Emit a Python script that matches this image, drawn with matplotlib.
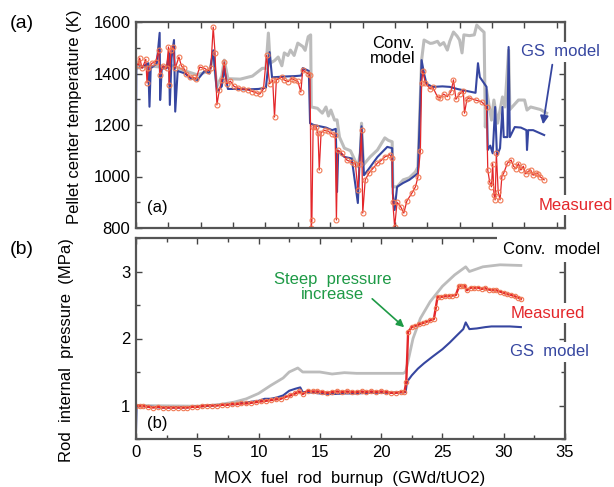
import numpy as np
import matplotlib
matplotlib.use("Agg")
import matplotlib.pyplot as plt

plt.rcParams['font.family'] = ['Liberation Sans', 'DejaVu Sans']

# ---- (a) pellet center temperature ----
a_meas_x = [0.05, 0.2, 0.3, 0.5, 0.8, 0.9, 1.0, 1.3, 1.6, 1.85, 1.95, 2.2, 2.5, 2.65, 2.7, 2.85,
            3.05, 3.2, 3.5, 3.7, 3.9, 4.1, 4.4, 4.7, 4.9, 5.2, 5.6, 5.9, 6.1, 6.3, 6.45, 6.6,
            6.8, 7.0, 7.2, 7.4, 7.7, 8.0, 8.3, 8.7, 9.1, 9.5, 9.8, 10.1, 10.4, 10.65, 10.9,
            11.15, 11.3, 11.45, 11.9, 12.1, 12.4, 12.7, 12.9, 13.2, 13.45, 13.6, 14.0, 14.2,
            14.3, 14.35, 14.45, 14.7, 14.85, 14.95, 15.1, 15.4, 15.7, 16.0, 16.25, 16.35,
            16.45, 16.8, 17.2, 17.6, 17.9, 18.1, 18.25, 18.4, 18.5, 18.7, 19.0, 19.3, 19.7,
            20.0, 20.3, 20.7, 20.9, 20.95, 21.1, 21.3, 21.6, 21.85, 22.1, 22.5, 22.8, 23.0,
            23.2, 23.3, 23.4, 23.6, 24.0, 24.2, 24.6, 24.8, 25.1, 25.4, 25.7, 25.9, 26.1,
            26.4, 26.7, 26.8, 27.0, 27.2, 27.7, 28.2, 28.6, 28.7, 28.85, 29.0, 29.1, 29.2,
            29.3, 29.4, 29.55, 29.7, 29.85, 30.0, 30.3, 30.6, 30.8, 31.0, 31.2, 31.4, 31.6,
            31.8, 32.0, 32.2, 32.4, 32.6, 32.8, 33.0, 33.3]
a_meas_T = [1440, 1433, 1460, 1420, 1455, 1363, 1420, 1440, 1445, 1491, 1394, 1430, 1420, 1503, 1355, 1491,
            1503, 1420, 1464, 1430, 1420, 1400, 1386, 1385, 1380, 1425, 1420, 1410, 1420, 1580, 1480, 1278,
            1336, 1375, 1445, 1360, 1370, 1350, 1344, 1340, 1337, 1330, 1325, 1320, 1340, 1470, 1360,
            1375, 1231, 1375, 1386, 1375, 1368, 1380, 1375, 1370, 1328, 1414, 1400, 1395,
            800, 830, 1193, 1193, 1167, 1025, 1170, 1180, 1175, 1165, 1160, 831,
            1103, 1090, 1064, 1055, 1050, 948, 1050, 1181, 858, 987, 1013, 1030, 1052,
            1062, 1076, 1085, 1070, 901, 804, 900, 882, 858, 905, 935, 960, 998,
            1100, 1363, 1410, 1363, 1340, 1348, 1309, 1305, 1320, 1310, 1330, 1375, 1300,
            1320, 1333, 1246, 1300, 1305, 1297, 1290, 1270, 1025, 980, 960, 1050, 930,
            909, 1090, 940, 909, 1000, 1013, 1052, 1064, 1040, 1030, 1050, 1025, 1040,
            1010, 1020, 1025, 1005, 1013, 1010, 998, 987]

a_gs_x = [0.0, 0.03, 0.5, 1.0, 1.1, 1.2, 1.7, 1.93, 1.97, 2.1, 2.5, 2.7, 2.76, 2.9, 3.1, 3.2, 3.4,
          4.0, 4.5, 5.0, 5.6, 6.0, 6.3, 6.6, 7.0, 7.2, 7.5, 8.0, 9.0, 10.0, 10.6, 10.9, 11.1,
          12.0, 13.0, 13.5, 13.6, 14.1, 14.2, 14.5, 15.0, 15.5, 16.0, 16.3, 16.4, 16.5, 16.8,
          17.0, 17.6, 18.1, 18.25, 18.4, 18.6, 19.0, 19.7, 20.5, 20.9, 20.95, 21.1, 21.3,
          21.8, 22.3, 22.8, 23.0, 23.3, 23.5, 23.7, 24.2, 25.0, 25.6, 26.2, 26.9, 27.7, 27.9,
          28.05, 28.6, 28.7, 28.9, 29.1, 29.3, 29.45, 29.7, 29.9, 30.0, 30.3, 30.4, 30.5,
          30.9, 31.4, 31.85, 31.9, 32.0, 32.4, 33.3]
a_gs_T = [1200, 1440, 1425, 1440, 1271, 1420, 1440, 1558, 1297, 1420, 1420, 1480, 1278, 1460, 1530, 1252, 1410,
          1400, 1380, 1375, 1410, 1400, 1490, 1330, 1350, 1420, 1340, 1340, 1338, 1340, 1345, 1483, 1385,
          1388, 1390, 1392, 1421, 1410, 1207, 1200, 1195, 1190, 1180, 1185, 940, 1100, 1085,
          1076, 1070, 897, 1070, 1195, 1005, 1030, 1076, 1115, 1110, 935, 870, 960,
          975, 987, 1005, 1013, 1452, 1400, 1360, 1348, 1350, 1348, 1340, 1333, 1325, 1440,
          1386, 1348, 1103, 1120, 1090, 1270, 1080, 1110, 1270, 1153, 1153, 1503, 1153,
          1192, 1190, 1180, 1103, 1180, 1180, 1161]

a_conv_x = [0.0, 1.0, 2.0, 3.0, 4.0, 5.0, 6.0, 6.3, 6.6, 7.0, 7.2, 7.5, 8.5, 9.5, 10.3, 10.6, 10.8,
            10.95, 11.3, 11.6, 11.9, 12.1, 12.4, 12.6, 12.9, 13.2, 13.6, 13.8, 14.05, 14.25, 14.3,
            14.8, 15.2, 15.5, 15.7, 15.9, 16.2, 16.4, 16.6, 17.0, 17.5, 18.1, 18.3, 18.4, 18.55,
            19.1, 19.7, 20.3, 20.6, 20.9, 20.95, 21.3, 21.8, 22.3, 22.8, 23.0, 23.3, 23.5, 24.0,
            24.2, 24.6, 24.8, 25.1, 25.4, 25.6, 25.9, 26.2, 26.4, 26.6, 26.75, 27.2, 27.6, 27.8,
            28.1, 28.4, 28.5, 28.6, 29.0, 29.2, 29.5, 29.9, 30.1, 30.4, 30.5, 31.2, 31.7, 31.9,
            32.2, 33.0, 33.5]
a_conv_T = [1420, 1430, 1425, 1430, 1410, 1395, 1410, 1470, 1350, 1390, 1452, 1380, 1378, 1390, 1420, 1420, 1557,
            1440, 1450, 1464, 1430, 1480, 1470, 1491, 1470, 1518, 1505, 1490, 1543, 1550, 1270,
            1265, 1246, 1270, 1235, 1258, 1219, 1220, 1153, 1110, 1100, 1038, 1090, 1207, 1045,
            1076, 1103, 1150, 1140, 1135, 960, 960, 987, 995, 1018, 1037, 1452, 1530, 1517,
            1518, 1525, 1510, 1520, 1491, 1525, 1561, 1545, 1530, 1480, 1550, 1547, 1550, 1588,
            1573, 1560, 1192, 1336, 1219, 1297, 1207, 1309, 1270, 1491, 1260, 1297, 1297, 1258,
            1270, 1260, 1246]

# ---- (b) rod internal pressure ----
b_meas_x = [0, 0.3, 0.6, 1.0, 1.4, 1.8, 2.2, 2.6, 3.0, 3.4, 3.8, 4.2, 4.6, 5.0, 5.4, 5.8, 6.2, 6.6,
            7.0, 7.4, 7.8, 8.2, 8.6, 9.0, 9.4, 9.8, 10.2, 10.6, 11.0, 11.4, 11.8, 12.2, 12.6, 13.0,
            13.3, 13.6, 14.0, 14.4, 14.8, 15.2, 15.6, 16.0, 16.4, 16.8, 17.2, 17.6, 18.0, 18.4,
            18.8, 19.2, 19.6, 20.0, 20.4, 20.8, 21.2, 21.6, 21.9, 22.05, 22.2, 22.5, 22.8, 23.1,
            23.4, 23.7, 24.0, 24.3, 24.45, 24.6, 24.9, 25.2, 25.5, 25.8, 26.1, 26.35, 26.5, 26.8,
            27.0, 27.3, 27.6, 27.9, 28.2, 28.5, 28.8, 29.1, 29.4, 29.7, 30.0, 30.3, 30.6, 30.9,
            31.2, 31.4]
b_meas_P = [1.00, 0.99, 0.99, 0.98, 0.97, 0.98, 0.97, 0.97, 0.97, 0.97, 0.97, 0.97, 0.98, 0.98, 0.99, 1.00, 1.00, 1.00,
            1.01, 1.01, 1.02, 1.02, 1.03, 1.03, 1.04, 1.05, 1.06, 1.07, 1.08, 1.09, 1.10, 1.13, 1.15, 1.18,
            1.21, 1.17, 1.22, 1.21, 1.21, 1.20, 1.19, 1.20, 1.21, 1.20, 1.21, 1.20, 1.20, 1.21,
            1.20, 1.21, 1.20, 1.21, 1.20, 1.19, 1.19, 1.20, 1.20, 1.35, 2.10, 2.17, 2.19, 2.21,
            2.23, 2.25, 2.27, 2.29, 2.45, 2.62, 2.62, 2.63, 2.63, 2.64, 2.65, 2.78, 2.79, 2.79,
            2.72, 2.76, 2.75, 2.76, 2.74, 2.75, 2.73, 2.72, 2.72, 2.70, 2.68, 2.66, 2.65, 2.63,
            2.61, 2.59]

b_gs_x = [0.0, 0.05, 2.0, 4.0, 6.0, 8.0, 10.0, 10.5, 11.0, 11.5, 12.0, 12.5, 13.0, 13.4, 13.6, 14.0,
          15.0, 16.0, 17.0, 18.0, 19.0, 20.0, 21.0, 22.0, 22.1, 22.5, 23.0, 23.5, 24.2, 25.0, 25.6,
          26.2, 26.7, 26.9, 27.2, 27.8, 28.5, 29.0, 29.7, 30.5, 31.4]
b_gs_P = [0.62, 1.0, 0.97, 0.97, 1.0, 1.02, 1.07, 1.10, 1.10, 1.12, 1.15, 1.22, 1.25, 1.27, 1.20, 1.20,
          1.18, 1.17, 1.18, 1.18, 1.19, 1.19, 1.19, 1.20, 1.35, 1.45, 1.55, 1.63, 1.73, 1.84, 1.94,
          2.05, 2.14, 2.24, 2.14, 2.15, 2.17, 2.18, 2.18, 2.18, 2.17]

b_conv_x = [0.0, 5.0, 6.0, 7.0, 8.0, 9.0, 10.0, 11.0, 12.0, 12.5, 13.2, 13.6, 14.0, 15.0, 16.0, 17.0,
            18.0, 19.0, 20.0, 21.0, 21.8, 22.0, 22.3, 22.6, 23.2, 24.0, 25.0, 26.0, 26.9, 27.2,
            28.3, 29.7, 31.4]
b_conv_P = [1.0, 0.99, 1.0, 1.02, 1.05, 1.10, 1.18, 1.30, 1.41, 1.50, 1.56, 1.50, 1.50, 1.50, 1.47, 1.49,
            1.48, 1.48, 1.48, 1.48, 1.48, 1.50, 1.75, 2.00, 2.30, 2.55, 2.78, 2.95, 3.07, 3.00,
            3.07, 3.10, 3.09]

c_conv = '#bcbcbc'
c_gs = '#3646a0'
c_meas = '#e4262a'
c_mk = '#f07a55'
c_green = '#1e9a46'
c_spine = '#555555'

fig = plt.figure(figsize=(6.14, 4.87), dpi=100)
ax1 = fig.add_axes([136/614, 1 - 228/487, 429/614, 206/487])
ax2 = fig.add_axes([136/614, 1 - 439/487, 429/614, 201/487])

def style(ax):
    for s in ax.spines.values():
        s.set_color(c_spine)
        s.set_linewidth(1.6)
    ax.tick_params(which='both', direction='in', top=True, right=True,
                   color='#444444', labelsize=12, pad=4)
    ax.tick_params(which='major', length=4, width=1)
    ax.tick_params(which='minor', length=3, width=1)

# top panel
ax1.plot(a_conv_x, a_conv_T, color=c_conv, lw=2.2, zorder=2)
ax1.plot(a_gs_x, a_gs_T, color=c_gs, lw=1.5, zorder=2.1)
ax1.plot(a_meas_x, a_meas_T, color=c_meas, lw=0.9, marker='o', ms=3.5,
         mfc='none', mec=c_mk, mew=0.8, zorder=2.2)
ax1.set_xlim(0, 35)
ax1.set_ylim(800, 1600)
ax1.set_xticks(np.arange(0, 35, 2.64))
ax1.set_xticklabels([])
ax1.set_yticks([800, 1000, 1200, 1400, 1600])
ax1.set_yticks(np.arange(800, 1601, 100), minor=True)
style(ax1)

ax1.text(20.95, 1487, 'Conv.\nmodel', ha='center', va='center', fontsize=12,
         linespacing=1.0, color='black')
ax1.text(34.6, 1484, 'GS  model', ha='center', va='center', fontsize=12, color=c_gs,
         bbox=dict(facecolor='white', edgecolor='none', pad=2), zorder=5, clip_on=False)
ax1.text(35.9, 889, 'Measured', ha='center', va='center', fontsize=12, color=c_meas,
         bbox=dict(facecolor='white', edgecolor='none', pad=2), zorder=5, clip_on=False)
ax1.annotate('', xy=(33.17, 1192), xytext=(34.0, 1445),
             arrowprops=dict(arrowstyle='-|>', color=c_gs, lw=1.3, mutation_scale=12))
ax1.text(1.71, 878, '(a)', ha='center', va='center', fontsize=12)

# bottom panel
ax2.plot(b_conv_x, b_conv_P, color=c_conv, lw=2.0, zorder=2)
ax2.plot(b_gs_x, b_gs_P, color=c_gs, lw=1.5, zorder=2.1)
ax2.plot(b_meas_x, b_meas_P, color=c_meas, lw=1.7, marker='o', ms=3.2,
         mfc='none', mec=c_mk, mew=0.8, zorder=2.2)
ax2.set_xlim(0, 35)
ax2.set_ylim(0.5, 3.5)
ax2.set_xticks(np.arange(0, 36, 5))
ax2.set_xticks(np.arange(0, 36, 2.5), minor=True)
ax2.set_yticks([1, 2, 3])
ax2.set_yticks(np.arange(0.5, 3.51, 0.5), minor=True)
style(ax2)

ax2.text(33.9, 3.33, 'Conv.  model', ha='center', va='center', fontsize=12, color='black',
         bbox=dict(facecolor='white', edgecolor='none', pad=4), zorder=5, clip_on=False)
ax2.text(33.6, 2.38, 'Measured', ha='center', va='center', fontsize=12, color=c_meas,
         bbox=dict(facecolor='white', edgecolor='none', pad=2), zorder=5, clip_on=False)
ax2.text(33.7, 1.80, 'GS  model', ha='center', va='center', fontsize=12, color=c_gs,
         bbox=dict(facecolor='white', edgecolor='none', pad=2), zorder=5, clip_on=False)
ax2.text(16.05, 2.77, 'Steep  pressure\nincrease', ha='center', va='center', fontsize=12,
         linespacing=1.0, color=c_green)
ax2.annotate('', xy=(22.05, 2.14), xytext=(19.1, 2.62),
             arrowprops=dict(arrowstyle='-|>', color=c_green, lw=1.2, mutation_scale=11))
ax2.text(1.71, 0.73, '(b)', ha='center', va='center', fontsize=12)

fig.text(22/614, 1 - 24/487, '(a)', ha='center', va='center', fontsize=14)
fig.text(22/614, 1 - 249/487, '(b)', ha='center', va='center', fontsize=14)
fig.text(75/614, 1 - 117/487, 'Pellet center temperature (K)', rotation=90,
         ha='center', va='center', fontsize=12)
fig.text(67/614, 1 - 350/487, 'Rod  internal  pressure  (MPa)', rotation=90,
         ha='center', va='center', fontsize=12)
fig.text(350/614, 1 - 478/487, 'MOX  fuel  rod  burnup  (GWd/tUO2)',
         ha='center', va='center', fontsize=12)

fig.savefig('out.png', dpi=100)
